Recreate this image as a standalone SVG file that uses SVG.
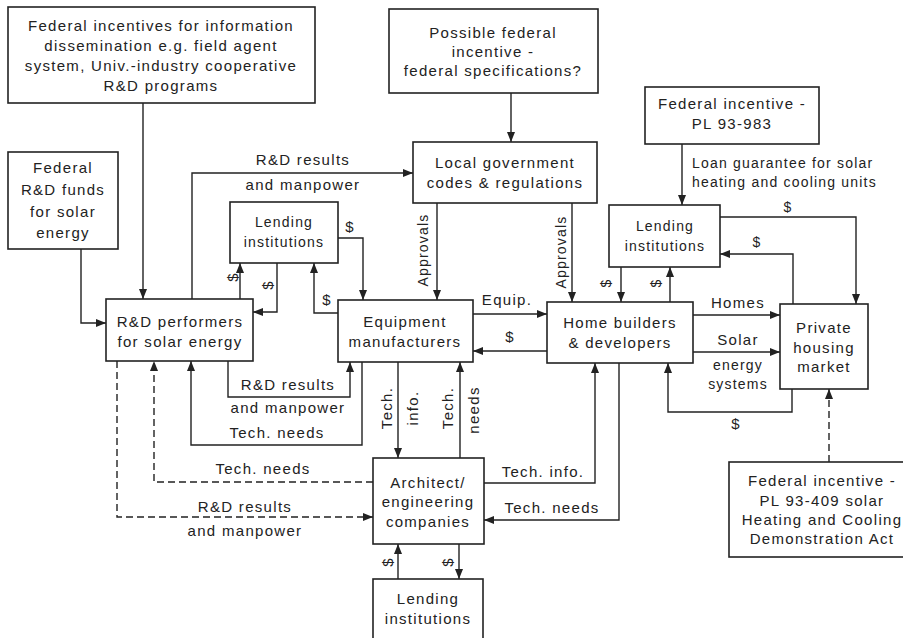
<svg xmlns="http://www.w3.org/2000/svg" width="903" height="638" viewBox="0 0 903 638">
<defs>
<marker id="ah" markerUnits="userSpaceOnUse" markerWidth="10" markerHeight="8" refX="10" refY="4" orient="auto">
<path d="M0,0 L10,4 L0,8 z" fill="#222"/>
</marker>
<style>
.box{fill:#fff;stroke:#222;stroke-width:1.6}
.t{font-family:"Liberation Sans",Arial,sans-serif;font-size:15px;letter-spacing:1.3px;fill:#222;text-anchor:middle}
.ts{font-family:"Liberation Sans",Arial,sans-serif;font-size:14px;letter-spacing:1.2px;fill:#222;text-anchor:middle}
.r{dominant-baseline:central}
.c{fill:none;stroke:#222;stroke-width:1.4;marker-end:url(#ah)}
.d{stroke-dasharray:7,4}
</style>
</defs>
<rect width="903" height="638" fill="#fff"/>

<g id="connectors">
<path class="c" d="M143,103 V299"/>
<path class="c" d="M81,249 V323 H106"/>
<path class="c" d="M192,299 V173 H413"/>
<path class="c" d="M511,93 V142"/>
<path class="c" d="M437,203 V300"/>
<path class="c" d="M572,203 V302"/>
<path class="c" d="M240,299 V263"/>
<path class="c" d="M277,263 V312 H253"/>
<path class="c" d="M338,238 H363 V300"/>
<path class="c" d="M338,313 H314 V263"/>
<path class="c" d="M473,314 H547"/>
<path class="c" d="M547,351 H473"/>
<path class="c" d="M682,144 V205"/>
<path class="c" d="M621,267 V302"/>
<path class="c" d="M670,302 V267"/>
<path class="c" d="M720,217 H856 V304"/>
<path class="c" d="M793,304 V254 H720"/>
<path class="c" d="M693,315 H780"/>
<path class="c" d="M693,352 H780"/>
<path class="c" d="M792,389 V412 H668 V363"/>
<path class="c d" d="M829,462 V389"/>
<path class="c" d="M228,361 V397 H350 V362"/>
<path class="c" d="M362,362 V445 H191 V361"/>
<path class="c" d="M398,362 V458"/>
<path class="c" d="M460,458 V362"/>
<path class="c d" d="M117,361 V517 H373"/>
<path class="c d" d="M373,482 H154 V361"/>
<path class="c" d="M484,483 H595 V363"/>
<path class="c" d="M619,363 V520 H484"/>
<path class="c" d="M398,579 V544"/>
<path class="c" d="M459,544 V579"/>

<g id="labels">
<text class="t" x="303" y="165">R&amp;D results</text>
<text class="t" x="303" y="190">and manpower</text>
<text class="t" x="350" y="232">$</text>
<text class="t" x="327" y="305">$</text>
<text class="t r" transform="translate(232,277) rotate(-90)">$</text>
<text class="t r" transform="translate(267,285) rotate(-90)">$</text>
<text class="ts r" transform="translate(423,250) rotate(-90)">Approvals</text>
<text class="ts r" transform="translate(561,252) rotate(-90)">Approvals</text>
<text class="t" x="507" y="305">Equip.</text>
<text class="t" x="510" y="342">$</text>
<text class="ts" x="692" y="168" style="text-anchor:start">Loan guarantee for solar</text>
<text class="ts" x="692" y="187" style="text-anchor:start">heating and cooling units</text>
<text class="ts" x="788" y="212">$</text>
<text class="ts" x="757" y="247">$</text>
<text class="ts r" transform="translate(606,283) rotate(-90)">$</text>
<text class="ts r" transform="translate(656,283) rotate(-90)">$</text>
<text class="t" x="738" y="308">Homes</text>
<text class="t" x="738" y="345">Solar</text>
<text class="ts" x="738" y="370">energy</text>
<text class="ts" x="738" y="389">systems</text>
<text class="t" x="736" y="429">$</text>
<text class="t" x="288" y="390">R&amp;D results</text>
<text class="t" x="288" y="413">and manpower</text>
<text class="t" x="277" y="438">Tech. needs</text>
<text class="t r" transform="translate(386,408) rotate(-90)">Tech.</text>
<text class="t r" transform="translate(412,408) rotate(-90)">info.</text>
<text class="t r" transform="translate(447,408) rotate(-90)">Tech.</text>
<text class="t r" transform="translate(473,410) rotate(-90)">needs</text>
<text class="t" x="263" y="474">Tech. needs</text>
<text class="t" x="245" y="512">R&amp;D results</text>
<text class="t" x="245" y="536">and manpower</text>
<text class="t" x="543" y="477">Tech. info.</text>
<text class="t" x="552" y="513">Tech. needs</text>
<text class="t r" transform="translate(387,562) rotate(-90)">$</text>
<text class="t r" transform="translate(447,562) rotate(-90)">$</text>
</g>
</g>

<g id="fed-info">
<rect class="box" x="8" y="7" width="307" height="96"/>
<text class="t" x="161" y="31">Federal incentives for information</text>
<text class="t" x="161" y="51">dissemination e.g. field agent</text>
<text class="t" x="161" y="71">system, Univ.-industry cooperative</text>
<text class="t" x="161" y="91">R&amp;D programs</text>
</g>

<g id="fed-spec">
<rect class="box" x="389" y="9" width="209" height="84"/>
<text class="t" x="493" y="38">Possible federal</text>
<text class="t" x="493" y="57">incentive -</text>
<text class="t" x="493" y="76">federal specifications?</text>
</g>

<g id="local-gov">
<rect class="box" x="413" y="142" width="184" height="61"/>
<text class="t" x="505" y="168">Local government</text>
<text class="t" x="505" y="188">codes &amp; regulations</text>
</g>

<g id="pl93983">
<rect class="box" x="645" y="87" width="174" height="57"/>
<text class="t" x="732" y="109">Federal incentive -</text>
<text class="t" x="732" y="129">PL 93-983</text>
</g>

<g id="lending-right">
<rect class="box" x="609" y="205" width="111" height="62"/>
<text class="ts" x="665" y="231">Lending</text>
<text class="ts" x="665" y="251">institutions</text>
</g>

<g id="fed-rd-funds">
<rect class="box" x="8" y="152" width="110" height="97"/>
<text class="t" x="63" y="173">Federal</text>
<text class="t" x="63" y="195">R&amp;D funds</text>
<text class="t" x="63" y="217">for solar</text>
<text class="t" x="63" y="238">energy</text>
</g>

<g id="lending-mid">
<rect class="box" x="230" y="202" width="108" height="61"/>
<text class="ts" x="284" y="227">Lending</text>
<text class="ts" x="284" y="247">institutions</text>
</g>

<g id="rd-performers">
<rect class="box" x="106" y="299" width="147" height="62"/>
<text class="t" x="180" y="327">R&amp;D performers</text>
<text class="t" x="180" y="347">for solar energy</text>
</g>

<g id="equipment">
<rect class="box" x="338" y="300" width="135" height="62"/>
<text class="t" x="405" y="327">Equipment</text>
<text class="t" x="405" y="347">manufacturers</text>
</g>

<g id="home-builders">
<rect class="box" x="547" y="302" width="146" height="61"/>
<text class="t" x="620" y="328">Home builders</text>
<text class="t" x="620" y="348">&amp; developers</text>
</g>

<g id="private-market">
<rect class="box" x="780" y="304" width="88" height="85"/>
<text class="t" x="824" y="333">Private</text>
<text class="t" x="824" y="353">housing</text>
<text class="t" x="824" y="372">market</text>
</g>

<g id="pl93409">
<rect class="box" x="729" y="462" width="186" height="95"/>
<text class="t" x="822" y="486">Federal incentive -</text>
<text class="t" x="822" y="506">PL 93-409 solar</text>
<text class="t" x="822" y="525">Heating and Cooling</text>
<text class="t" x="822" y="544">Demonstration Act</text>
</g>

<g id="architect">
<rect class="box" x="373" y="458" width="111" height="86"/>
<text class="t" x="428" y="488">Architect/</text>
<text class="t" x="428" y="507">engineering</text>
<text class="t" x="428" y="527">companies</text>
</g>

<g id="lending-bottom">
<rect class="box" x="373" y="579" width="110" height="70"/>
<text class="t" x="428" y="604">Lending</text>
<text class="t" x="428" y="624">institutions</text>
</g>
</svg>
